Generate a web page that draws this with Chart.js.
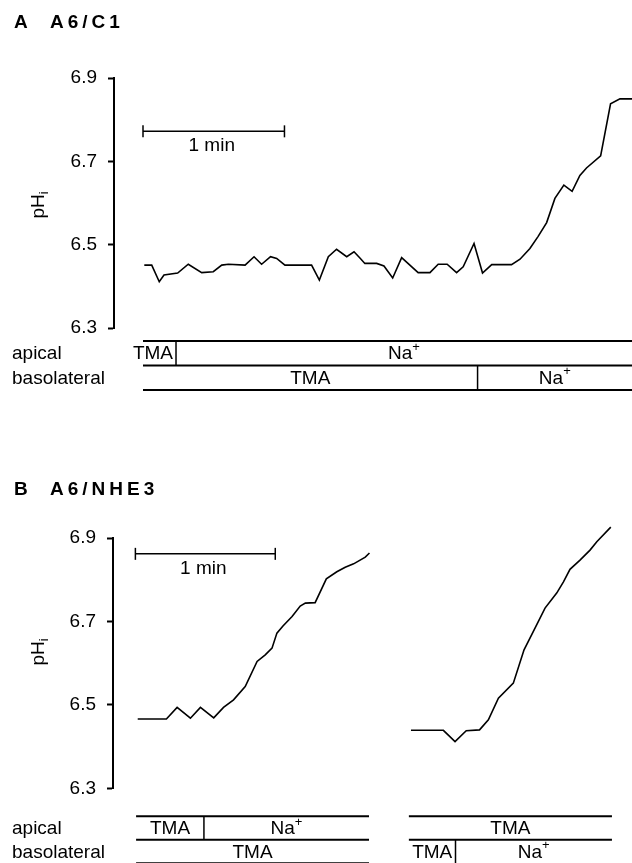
<!DOCTYPE html>
<html><head><meta charset="utf-8">
<script src="https://cdn.jsdelivr.net/npm/chart.js@4.4.1/dist/chart.umd.min.js"></script>
<style>
html,body{margin:0;padding:0;background:#fff;}
#wrap{position:relative;width:632px;height:863px;overflow:hidden;}
canvas{position:absolute;left:0;top:0;}
</style></head><body>
<div id="wrap"><canvas id="cA" width="632" height="863"></canvas><canvas id="cB" width="632" height="863"></canvas></div>
<script>
// ---------- DATA ----------
const yTicks = [6.3, 6.5, 6.7, 6.9];

// Panel A (A6/C1): time in seconds, pHi
const timeA = [0.55,3.7,6.9,8.9,14.7,19.2,24.9,29.8,33.4,36.2,43.3,47.1,50.3,54.1,56.7,60.2,71.5,74.8,78.6,82.1,86.4,89.5,92.0,94.1,99.1,102.2,105.9,109.7,116.7,121.7,125.2,129.0,133.0,135.8,140.4,144.0,147.9,156.3,159.9,164.1,167.6,171.2,174.7,178.5,182.0,185.3,188.1,194.1,198.3,202.3,207.4];
const phA   = [6.451,6.451,6.411,6.427,6.432,6.453,6.433,6.435,6.451,6.453,6.451,6.471,6.453,6.471,6.467,6.451,6.451,6.415,6.471,6.489,6.471,6.483,6.468,6.455,6.455,6.449,6.420,6.469,6.433,6.433,6.453,6.453,6.433,6.447,6.503,6.432,6.452,6.452,6.465,6.491,6.520,6.553,6.611,6.643,6.628,6.666,6.684,6.713,6.838,6.850,6.850];

// Panel B (A6/NHE3), first trace
const timeB1 = [1.0,13.3,17.9,23.6,27.9,33.6,37.8,42.1,47.1,52.2,55.7,58.6,60.7,63.3,67.2,70.7,72.9,77.1,81.9,86.4,90.0,93.6,98.6,100.4];
const phB1   = [6.466,6.466,6.494,6.468,6.494,6.469,6.494,6.512,6.544,6.604,6.620,6.636,6.672,6.689,6.712,6.737,6.744,6.745,6.802,6.819,6.830,6.838,6.854,6.864];
// Panel B, second trace
const timeB2 = [118.2,132.1,137.1,141.9,147.6,151.4,155.7,162.1,166.7,171.4,175.7,180.7,183.6,186.4,190.7,195.0,197.9,203.9];
const phB2   = [6.439,6.439,6.412,6.438,6.440,6.464,6.516,6.552,6.632,6.684,6.732,6.768,6.795,6.825,6.847,6.871,6.891,6.926];

// Solution bars (boundaries in seconds, labels per segment)
const A_apicalBounds = [0, 14.0, 207.4];   const A_apicalLabels = ['TMA', 'Na+'];
const A_basoBounds   = [0, 141.9, 207.4];  const A_basoLabels   = ['TMA', 'Na+'];
const B1_apicalBounds = [0.3, 29.4, 100.2]; const B1_apicalLabels = ['TMA', 'Na+'];
const B1_basoBounds   = [0.3, 100.2];       const B1_basoLabels   = ['TMA'];
const B2_apicalBounds = [117.3, 204.4];     const B2_apicalLabels = ['TMA'];
const B2_basoBounds   = [117.3, 137.3, 204.4]; const B2_basoLabels = ['TMA', 'Na+'];

const scaleBarSeconds = 60;
const scaleBarLabel = '1 min';
const rowNames = ['apical', 'basolateral'];

// ---------- DRAWING ----------
const FONT = '"Liberation Sans", Arial, Helvetica, sans-serif';
const FS = 19;

function drawLabel(ctx, label, cx, cy, maxRight) {
  let base = label, sup = '';
  if (label.endsWith('+')) { base = label.slice(0, -1); sup = '+'; }
  ctx.font = FS + 'px ' + FONT;
  const wb = ctx.measureText(base).width;
  ctx.font = '13px ' + FONT;
  const ws = sup ? ctx.measureText(sup).width : 0;
  const total = wb + ws;
  let x = cx - total / 2;
  if (maxRight !== undefined && x + total > maxRight) x = maxRight - total;
  ctx.textAlign = 'left';
  ctx.textBaseline = 'middle';
  ctx.font = FS + 'px ' + FONT;
  ctx.fillText(base, x, cy + 1);
  if (sup) { ctx.font = '13px ' + FONT; ctx.fillText(sup, x + wb, cy - 6); }
}

function hline(ctx, x0, x1, y, w) {
  ctx.lineWidth = w; ctx.beginPath(); ctx.moveTo(x0, y); ctx.lineTo(x1, y); ctx.stroke();
}
function vline(ctx, x, y0, y1, w) {
  ctx.lineWidth = w; ctx.beginPath(); ctx.moveTo(x, y0); ctx.lineTo(x, y1); ctx.stroke();
}

const panelPlugin = {
  id: 'panel',
  afterDraw(chart, args, o) {
    const ctx = chart.ctx, xs = chart.scales.x, ys = chart.scales.y, ca = chart.chartArea;
    ctx.save();
    ctx.fillStyle = '#000'; ctx.strokeStyle = '#000';
    // title
    ctx.font = 'bold 19px ' + FONT;
    ctx.textAlign = 'left'; ctx.textBaseline = 'alphabetic';
    ctx.letterSpacing = '0px';
    ctx.fillText(o.letter, 14, o.titleY);
    ctx.letterSpacing = '4px';
    ctx.fillText(o.name, 50, o.titleY);
    ctx.letterSpacing = '0px';
    // y label pHi
    ctx.save();
    ctx.translate(44, o.yLabelY);
    ctx.rotate(-Math.PI / 2);
    ctx.font = FS + 'px ' + FONT;
    const wp = ctx.measureText('pH').width;
    ctx.font = '13px ' + FONT;
    const wi = ctx.measureText('i').width;
    const sx = -(wp + wi) / 2;
    ctx.font = FS + 'px ' + FONT;
    ctx.fillText('pH', sx, 0);
    ctx.font = '13px ' + FONT;
    ctx.fillText('i', sx + wp, 4);
    ctx.restore();
    // scale bar
    const by = ys.getPixelForValue(o.barPh);
    const bx0 = xs.getPixelForValue(0), bx1 = xs.getPixelForValue(scaleBarSeconds);
    hline(ctx, bx0, bx1, by, 1.5);
    vline(ctx, bx0, by - 6, by + 6, 1.5);
    vline(ctx, bx1, by - 6, by + 6, 1.5);
    ctx.font = FS + 'px ' + FONT; ctx.textAlign = 'center'; ctx.textBaseline = 'alphabetic';
    ctx.fillText(scaleBarLabel, (bx0 + bx1) / 2 - 2, by + 20);
    // row names
    const yTop = ca.bottom + o.rowTop, rh = o.rowH;
    ctx.font = FS + 'px ' + FONT; ctx.textAlign = 'left'; ctx.textBaseline = 'middle';
    ctx.fillText(rowNames[0], 12, yTop + rh / 2 + 1);
    ctx.fillText(rowNames[1], 12, yTop + rh * 1.5 + 1);
    // solution bar groups
    o.groups.forEach(g => {
      const rows = [[g.apB, g.apL], [g.baB, g.baL]];
      const ax0 = xs.getPixelForValue(g.apB[0]), ax1 = xs.getPixelForValue(g.apB[g.apB.length - 1]);
      const bx0_ = xs.getPixelForValue(g.baB[0]), bx1_ = xs.getPixelForValue(g.baB[g.baB.length - 1]);
      hline(ctx, ax0, ax1, yTop, 2);
      hline(ctx, Math.min(ax0, bx0_), Math.max(ax1, bx1_), yTop + rh, 2);
      if (g.bottom) hline(ctx, bx0_, bx1_, yTop + 2 * rh, 2);
      rows.forEach(([bounds, labels], r) => {
        const y0 = yTop + r * rh, y1 = y0 + rh;
        for (let i = 1; i < bounds.length - 1; i++) {
          vline(ctx, xs.getPixelForValue(bounds[i]), y0, y1, 1.5);
        }
        labels.forEach((lab, i) => {
          const p0 = xs.getPixelForValue(bounds[i]), p1 = xs.getPixelForValue(bounds[i + 1]);
          const right = (i < bounds.length - 2) ? p1 - 3 : undefined;
          drawLabel(ctx, lab, (p0 + p1) / 2, (y0 + y1) / 2, right);
        });
      });
    });
    ctx.restore();
  }
};

function yAxis(width) {
  return {
    type: 'linear', min: 6.3, max: 6.9,
    afterBuildTicks: s => { s.ticks = yTicks.map(v => ({ value: v })); },
    afterFit: s => { s.width = width; },
    border: { display: true, color: '#000', width: 2 },
    grid: { display: true, drawOnChartArea: false, drawTicks: true, tickLength: 6, tickWidth: 2, tickColor: '#000' },
    ticks: { color: '#000', font: { family: FONT, size: FS }, padding: 11, callback: v => v.toFixed(1) }
  };
}
const lineStyle = { borderColor: '#000', borderWidth: 1.6, pointRadius: 0, tension: 0, fill: false, clip: false };
const toPts = (t, p) => t.map((x, i) => ({ x: x, y: p[i] }));

new Chart(document.getElementById('cA'), {
  type: 'line',
  data: { datasets: [Object.assign({ data: toPts(timeA, phA) }, lineStyle)] },
  options: {
    responsive: false, animation: false, devicePixelRatio: 1,
    layout: { padding: { top: 78, bottom: 863 - 328, left: 0, right: 0 } },
    plugins: {
      legend: { display: false }, tooltip: { enabled: false },
      panel: { letter: 'A', name: 'A6/C1', titleY: 28, yLabelY: 205, barPh: 6.772, rowTop: 13, rowH: 24.5,
        groups: [{ apB: A_apicalBounds, apL: A_apicalLabels, baB: A_basoBounds, baL: A_basoLabels, bottom: true }] }
    },
    scales: { x: { type: 'linear', min: -12.3, max: 207.4, display: false }, y: yAxis(114) }
  },
  plugins: [panelPlugin]
});

new Chart(document.getElementById('cB'), {
  type: 'line',
  data: { datasets: [
    Object.assign({ data: toPts(timeB1, phB1) }, lineStyle),
    Object.assign({ data: toPts(timeB2, phB2) }, lineStyle)
  ] },
  options: {
    responsive: false, animation: false, devicePixelRatio: 1,
    layout: { padding: { top: 538, bottom: 863 - 788.3, left: 0, right: 0 } },
    plugins: {
      legend: { display: false }, tooltip: { enabled: false },
      panel: { letter: 'B', name: 'A6/NHE3', titleY: 495, yLabelY: 652, barPh: 6.862, rowTop: 28, rowH: 23.5,
        groups: [
          { apB: B1_apicalBounds, apL: B1_apicalLabels, baB: B1_basoBounds, baL: B1_basoLabels, bottom: true },
          { apB: B2_apicalBounds, apL: B2_apicalLabels, baB: B2_basoBounds, baL: B2_basoLabels, bottom: false }
        ] }
    },
    scales: { x: { type: 'linear', min: -9.6, max: 213.0, display: false }, y: yAxis(113) }
  },
  plugins: [panelPlugin]
});
</script>
</body></html>
